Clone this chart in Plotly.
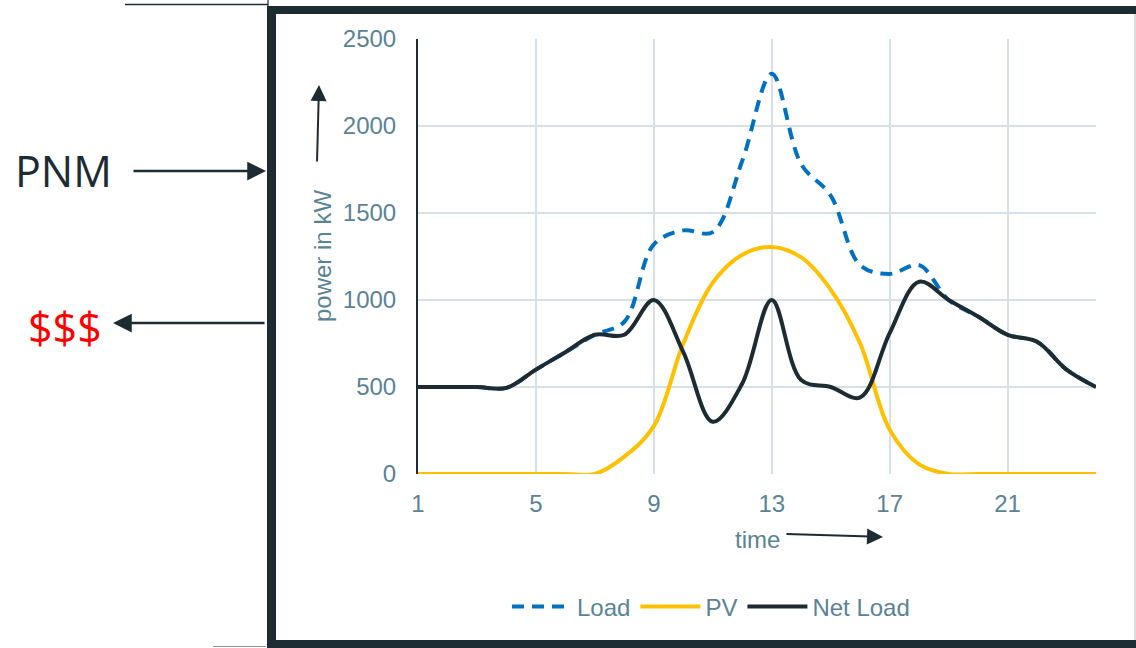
import plotly.graph_objects as go

# ---- data ----
hours = list(range(1, 25))
load = [500, 500, 500, 495, 600, 700, 800, 875, 1320, 1400, 1390, 1800,
        2300, 1780, 1600, 1200, 1150, 1200, 1000, 905, 800, 760, 600, 500]
pv = [0, 0, 0, 0, 0, 0, 0, 100, 275, 750, 1100, 1260,
      1305, 1245, 1060, 750, 255, 55, 0, 0, 0, 0, 0, 0]
net_load = [500, 500, 500, 495, 600, 700, 800, 800, 1000, 700, 300, 520,
            1000, 540, 500, 440, 810, 1105, 1000, 905, 800, 760, 600, 500]
x_ticks = [1, 5, 9, 13, 17, 21]
y_ticks = [0, 500, 1000, 1500, 2000, 2500]

# ---- styling ----
W, H = 1136, 648
ML, MR, MT, MB = 418, 40, 39, 174
PW, PH = W - ML - MR, H - MT - MB
DARK = "#1d2b33"
TXT = "#5a8396"
GRID = "#d6e0e6"
FONT = "Liberation Sans, Arial, sans-serif"
FS = 24


def fx(p):
    return (p - ML) / PW


def fy(p):
    return (H - MB - p) / PH


fig = go.Figure()
fig.add_trace(go.Scatter(x=hours, y=load, name="Load", mode="lines",
                         line=dict(color="#0070c0", width=4, dash="12px,8px",
                                   shape="spline", smoothing=1.0)))
fig.add_trace(go.Scatter(x=hours, y=pv, name="PV", mode="lines",
                         line=dict(color="#ffc000", width=4,
                                   shape="spline", smoothing=1.0)))
fig.add_trace(go.Scatter(x=hours, y=net_load, name="Net Load", mode="lines",
                         line=dict(color=DARK, width=4,
                                   shape="spline", smoothing=1.0)))

shapes = [
    # thick frame
    dict(type="rect", x0=fx(267), x1=fx(276), y0=fy(6), y1=fy(648),
         fillcolor=DARK, line=dict(width=0)),
    dict(type="rect", x0=fx(267), x1=fx(1136), y0=fy(6), y1=fy(14),
         fillcolor=DARK, line=dict(width=0)),
    dict(type="rect", x0=fx(267), x1=fx(1136), y0=fy(640), y1=fy(648),
         fillcolor=DARK, line=dict(width=0)),
    dict(type="line", x0=fx(1135), x1=fx(1135), y0=fy(14), y1=fy(640),
         line=dict(color="#d0d0d0", width=1.5)),
    # thin lines outside frame
    dict(type="line", x0=fx(125), x1=fx(268), y0=fy(4.5), y1=fy(4.5),
         line=dict(color=DARK, width=1.5)),
    dict(type="line", x0=fx(268), x1=fx(268), y0=fy(0), y1=fy(6),
         line=dict(color=DARK, width=1.2)),
    dict(type="line", x0=fx(213), x1=fx(266), y0=fy(646.5), y1=fy(646.5),
         line=dict(color="#8a9499", width=1.2)),
]
for s in shapes:
    s.update(xref="paper", yref="paper", layer="above")

annotations = [
    dict(x=fx(63), y=fy(170), text="PNM", showarrow=False,
         font=dict(family="Open Sans", size=43, color=DARK),
         xanchor="center", yanchor="middle"),
    dict(x=fx(65), y=fy(327), text="$$$", showarrow=False,
         font=dict(family="Open Sans", size=43, color="#ff0000"),
         xanchor="center", yanchor="middle"),
    dict(x=fx(322), y=fy(256), text="power in kW", showarrow=False,
         textangle=-90, font=dict(family=FONT, size=FS, color=TXT),
         xanchor="center", yanchor="middle"),
    dict(x=fx(757), y=fy(539), text="time", showarrow=False,
         font=dict(family=FONT, size=FS, color=TXT),
         xanchor="center", yanchor="middle"),
    # arrows
    dict(x=fx(266), y=fy(171), ax=132 - 266, ay=0, text="", showarrow=True,
         arrowhead=2, arrowsize=1.5, arrowwidth=2.5, arrowcolor=DARK),
    dict(x=fx(113), y=fy(323), ax=266 - 113, ay=0, text="", showarrow=True,
         arrowhead=2, arrowsize=1.5, arrowwidth=2.5, arrowcolor=DARK),
    dict(x=fx(319), y=fy(85), ax=-2, ay=78, text="", showarrow=True,
         arrowhead=2, arrowsize=1.6, arrowwidth=2, arrowcolor=DARK),
    dict(x=fx(883), y=fy(537), ax=-98, ay=-3, text="", showarrow=True,
         arrowhead=2, arrowsize=1.6, arrowwidth=2, arrowcolor=DARK),
]
for a in annotations:
    a.update(xref="paper", yref="paper")

fig.update_layout(
    width=W, height=H,
    margin=dict(l=ML, r=MR, t=MT, b=MB, pad=0),
    paper_bgcolor="white", plot_bgcolor="white",
    font=dict(family=FONT, size=FS, color=TXT),
    shapes=shapes, annotations=annotations,
    showlegend=True,
    legend=dict(orientation="h", x=fx(711), xanchor="center",
                y=fy(607), yanchor="middle",
                font=dict(family=FONT, size=FS, color=TXT),
                bgcolor="rgba(0,0,0,0)", itemwidth=60, tracegroupgap=0),
    xaxis=dict(range=[1, 24], tickvals=x_ticks, ticktext=[str(v) for v in x_ticks],
               showgrid=True, gridcolor=GRID, gridwidth=2,
               showline=False, zeroline=False,
               ticks="outside", ticklen=8, tickcolor="rgba(0,0,0,0)",
               tickfont=dict(family=FONT, size=FS, color=TXT)),
    yaxis=dict(range=[0, 2500], tickvals=y_ticks,
               showgrid=True, gridcolor=GRID, gridwidth=2,
               showline=True, linecolor=DARK, linewidth=2, zeroline=False,
               ticks="outside", ticklen=15, tickcolor="rgba(0,0,0,0)",
               tickfont=dict(family=FONT, size=FS, color=TXT)),
)

fig.write_html("out.html")
